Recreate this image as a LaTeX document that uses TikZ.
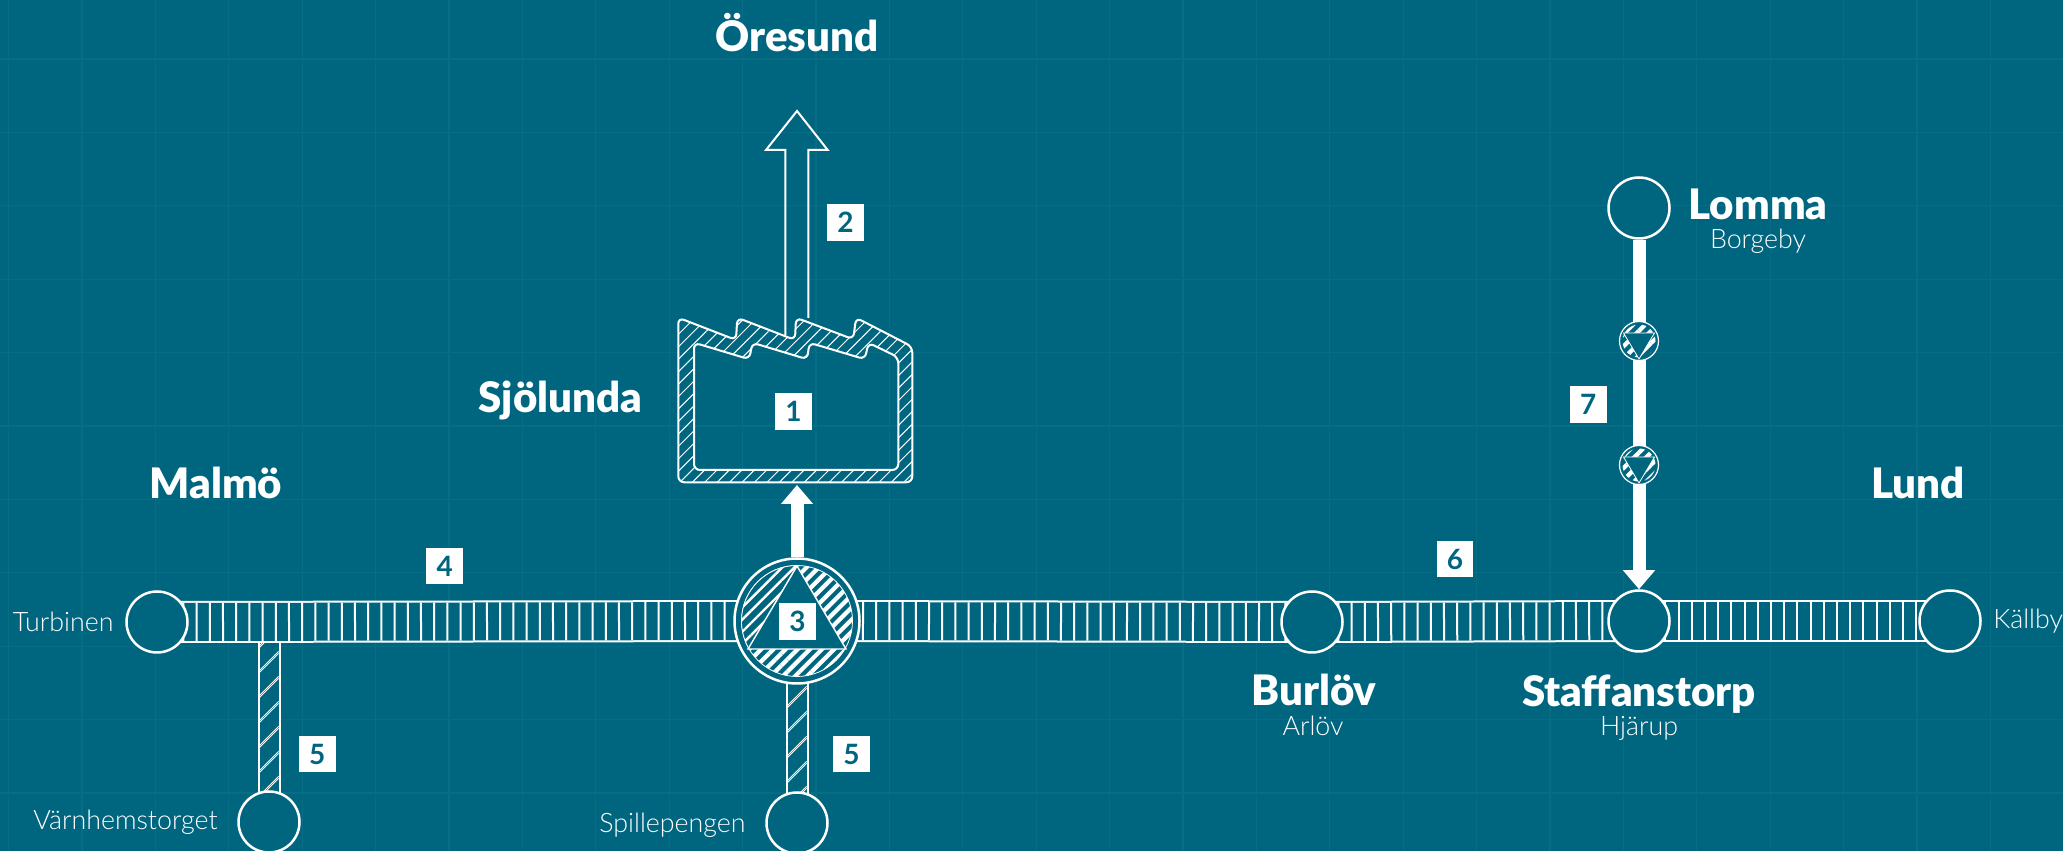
\documentclass[tikz,border=0pt]{standalone}
\usepackage{fontspec}
\setmainfont{Lato}[UprightFont=* Light, BoldFont=* Black]
\newfontfamily\digitfont{Lato}[UprightFont=* Bold]
\usepackage{tikz}
\usetikzlibrary{arrows.meta}
\usetikzlibrary{backgrounds}
\usetikzlibrary{decorations.markings}
\usetikzlibrary{patterns.meta}
\definecolor{bgcol}{HTML}{006680}
\definecolor{gridcol}{HTML}{076D85}
\tikzset{>=Triangle}
\tikzset{
  station/.style = {circle, draw=white, fill=bgcol, line width=1.25pt, minimum size=30.5pt, inner sep=0},
  badge/.style = {fill=white, text=bgcol, font=\fontsize{14}{14}\selectfont\digitfont, minimum size=18.4pt, inner sep=0},
  bigname/.style = {text=white, font=\fontsize{21}{22}\selectfont\bfseries, inner sep=0},
  smallname/.style = {text=white, font=\fontsize{13.4}{14}\selectfont, inner sep=0},
  flow/.style = {draw=white, line width=6.5pt, -{Triangle[length=9.5pt, width=15.5pt]}},
  hatch/.style = {pattern={Lines[angle=45, distance=4.4pt, line width=.5pt]}, pattern color=white},
  stripes/.style = {pattern={Lines[angle=45, distance=4.3pt, line width=2.1pt]}, pattern color=white},
  thinstripes/.style = {preaction={fill=bgcol}, pattern={Lines[angle=45, distance=4.3pt, line width=1.2pt]}, pattern color=white},
  ring/.style = {circle, draw=white, fill=bgcol, line width=.6pt, minimum size=19.5pt, inner sep=0},
  ringfill/.style = {circle, stripes, minimum size=16.5pt, inner sep=0},
  band/.style = {draw=bgcol, line width=19pt, preaction={draw=white, line width=21pt}, postaction={decorate},
    decoration={markings, mark=between positions 0 and 1 step 6.6pt with {\draw[white, line width=1pt] (0,-9.5pt) -- (0,9.5pt);}}},
  branch/.style = {draw=bgcol, line width=9.5pt, preaction={draw=white, line width=11.5pt}, postaction={decorate},
    decoration={markings, mark=between positions 0 and 1 step 12.5pt with {
      \draw[white, line width=.4pt] (4.75pt,-4.75pt) -- (-4.75pt,4.75pt);
      \draw[white, line width=.4pt] (5.75pt,-4.75pt) -- (-3.75pt,4.75pt);}}}
}
\begin{document}
\begin{tikzpicture}[x=.5pt, y=.5pt]
\useasboundingbox (0,0) rectangle (2063,851);

% stations
\node [station] (turbinen) at (157,229) {};
\node [station] (varnhem) at (269,29) {};
\node [station] (spille) at (797,28) {};
\node [station] (burlov) at (1312,229) {};
\node [station] (staffan) at (1639,230) {};
\node [station] (kallby) at (1950,230) {};
\node [station] (lomma) at (1639,643) {};
\coordinate (varnhemtop) at (269,215);
\coordinate (plantin) at (797,366);

% pump in the middle
\node [circle, draw=white, fill=bgcol, line width=1.25pt, minimum size=62.5pt, inner sep=0] (outlet) at (797,230) {};
\node [circle, draw=white, line width=.4pt, stripes, minimum size=55.5pt, inner sep=0] (outletring) at (797,230) {};
\draw [draw=white, line width=.4pt, thinstripes] (797,285.5) arc [start angle=90, end angle=210, radius=55.5] -- cycle;
\draw [draw=white, fill=bgcol, line width=.7pt] (797,285) -- (846,202) -- (748,202) -- cycle;

% valves on the Lomma line
\node [ring] (valveA) at (1639,510) {};
\node [ringfill] (valveAring) at (1639,510) {};
\draw [draw=white, fill=bgcol, line width=.4pt] (1623.5,518) -- (1654.5,518) -- (1639,492) -- cycle;
\node [ring] (valveB) at (1639,386) {};
\node [ringfill] (valveBring) at (1639,386) {};
\draw [draw=white, fill=bgcol, line width=.4pt] (1623.5,394) -- (1654.5,394) -- (1639,368) -- cycle;

% treatment plant
\draw [draw=white, line width=1pt, hatch, even odd rule, rounded corners=3]
  (678.3,368.7) -- (678.3,533.3) -- (736,511) -- (737.3,533.3) -- (795,511) -- (796,533.3) -- (853.3,511.7) -- (856,533.3) -- (912.3,504.3) -- (912.3,368.7) -- cycle
  (694,381) -- (694,508.3) -- (749.3,491.7) -- (752.3,508.3) -- (807.3,491.7) -- (809.3,508.3) -- (865,491.7) -- (868.3,508.3) -- (898.3,493.7) -- (898.3,381) -- cycle;

% outlet arrow
\draw [draw=white, line width=1pt] (785.3,516) -- (785.3,701) -- (766,701) -- (797,740) -- (827.7,701) -- (808.3,701) -- (808.3,533);

% connectors
\begin{scope}[on background layer]
\fill [bgcol] (0,0) rectangle (2063,851);
\foreach \i in {0,...,28} \draw [gridcol, line width=.6pt] ({8.5+73.4*\i},0) -- ({8.5+73.4*\i},851);
\foreach \i in {0,...,10} \draw [gridcol, line width=.6pt] (0,{792-73.4*\i}) -- (2063,{792-73.4*\i});
\draw [branch] (varnhemtop) -- (varnhem.center);
\draw [branch] (outlet.center) -- (spille.center);
\draw [band] (turbinen.center) -- (outlet.center);
\draw [band] (outlet.center) -- (burlov.center);
\draw [band] (burlov.center) -- (staffan.center);
\draw [band] (staffan.center) -- (kallby.center);
\draw [flow] (lomma) -- (staffan);
\end{scope}
\draw [flow] (outlet) -- (plantin);

% names
\node [bigname] (oresund) at (797,818) {Öresund};
\node [bigname] (sjolunda) at (560.5,451) {Sjölunda};
\node [bigname] (malmo) at (216,368) {Malmö};
\node [bigname] (lund) at (1918,368) {Lund};
\node [bigname] (lommaname) at (1758,647) {Lomma};
\node [smallname] (borgeby) at (1758,610) {Borgeby};
\node [bigname] (burlovname) at (1314,161) {Burlöv};
\node [smallname] (arlov) at (1313,125) {Arlöv};
\node [bigname] (staffanname) at (1639,157) {Staffanstorp};
\node [smallname] (hjarup) at (1639,123) {Hjärup};
\node [smallname, anchor=east] (turbinenname) at (114,229) {Turbinen};
\node [smallname, anchor=east] (varnhemname) at (218,29) {Värnhemstorget};
\node [smallname, anchor=east] (spillename) at (746,26) {Spillepengen};
\node [smallname, anchor=west] (kallbyname) at (1993,230) {Källby};

% numbers
\node [badge] (one) at (793.5,439.3) {1};
\node [badge] (two) at (845.5,628.7) {2};
\node [badge] (three) at (797.5,229.5) {3};
\node [badge] (four) at (444.7,285) {4};
\node [badge] (fiveA) at (317.3,97) {5};
\node [badge] (fiveB) at (851.5,97) {5};
\node [badge] (six) at (1455,292) {6};
\node [badge] (seven) at (1588.3,446.6) {7};
\end{tikzpicture}
\end{document}
